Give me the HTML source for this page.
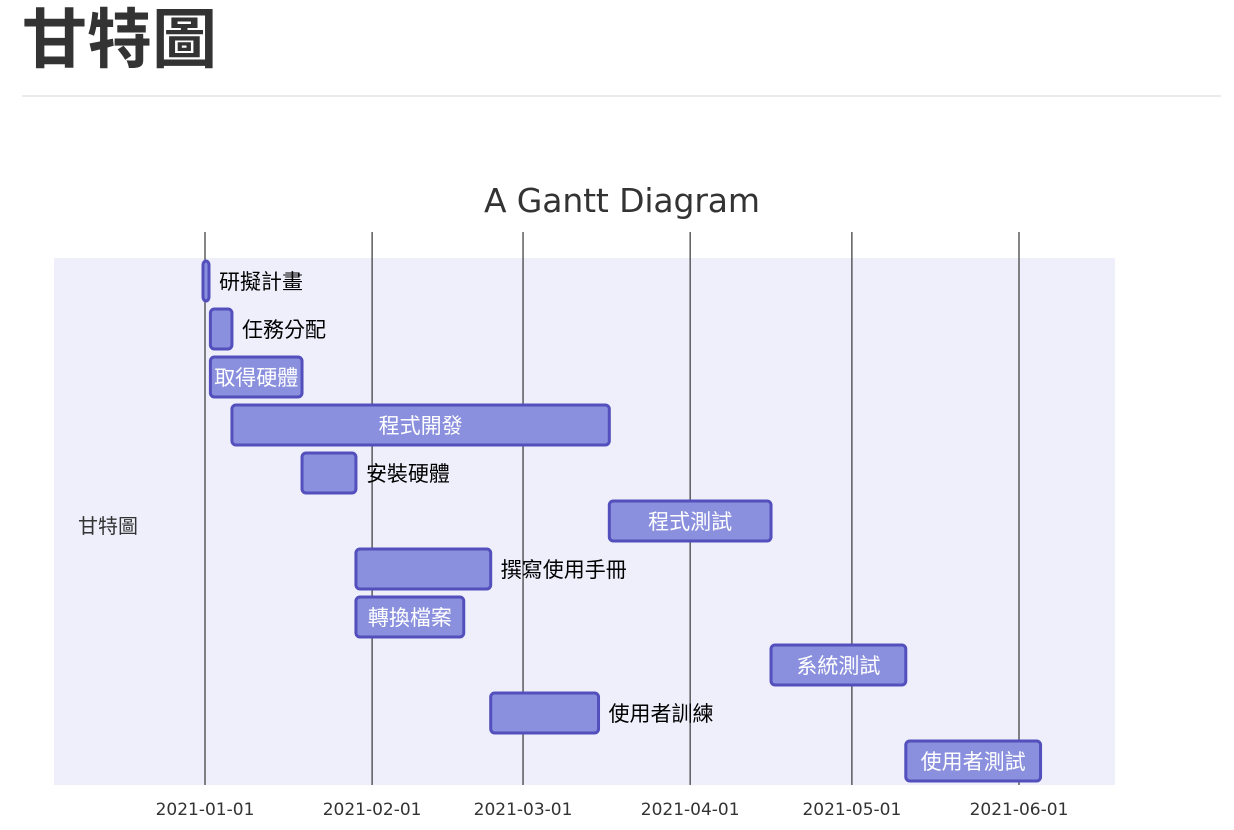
<!DOCTYPE html>
<html><head><meta charset="utf-8"><style>
body{margin:0;background:#fff;width:1234px;height:830px;overflow:hidden;font-family:"Liberation Sans","Noto Sans CJK TC",sans-serif}
h1{position:absolute;left:22px;top:0;margin:0;font-size:65px;line-height:80px;font-weight:bold;color:#333}
#hr{position:absolute;left:22px;top:95px;width:1199px;height:2px;background:#eaeaea}
svg{position:absolute;left:0;top:0}
</style></head><body>
<h1>甘特圖</h1>
<div id="hr"></div>
<svg id="chart" width="1234" height="830"></svg>
<script>
const taskNames=["研擬計畫","任務分配","取得硬體","程式開發","安裝硬體","程式測試","撰寫使用手冊","轉換檔案","系統測試","使用者訓練","使用者測試"];
const taskStarts=["2021-01-01","2021-01-02","2021-01-02","2021-01-06","2021-01-19","2021-03-17","2021-01-29","2021-01-29","2021-04-16","2021-02-23","2021-05-11"];
const taskEnds=["2021-01-02","2021-01-06","2021-01-19","2021-03-17","2021-01-29","2021-04-16","2021-02-23","2021-02-18","2021-05-11","2021-03-15","2021-06-05"];
const tickLabels=["2021-01-01","2021-02-01","2021-03-01","2021-04-01","2021-05-01","2021-06-01"];
const sectionName="甘特圖";
const NS="http://www.w3.org/2000/svg";
const svg=document.getElementById('chart');
const d0=Date.UTC(2021,0,1),d1=Date.UTC(2021,5,1);
function day(s){const p=s.split('-');return Date.UTC(+p[0],+p[1]-1,+p[2]);}
function x(s){return 205+(day(s)-d0)/(d1-d0)*814;}
function rowY(i){return 261+i*48;}
function mk(tag,attrs,parent){const e=document.createElementNS(NS,tag);for(const k in attrs)e.setAttribute(k,attrs[k]);(parent||svg).appendChild(e);return e;}
const title=mk('text',{x:622,y:212,'text-anchor':'middle','font-size':33,fill:'#333','font-family':'"DejaVu Sans","Noto Sans CJK TC",sans-serif','textLength':276});
title.textContent="A Gantt Diagram";


const bg=mk('rect',{x:54,y:258,width:1061,height:527,fill:'#efeffc'});


const sl=mk('text',{x:108,y:533,'text-anchor':'middle','font-size':20,fill:'#333'});
sl.textContent=sectionName;


tickLabels.forEach(t=>{
  const gx=x(t);
  const g=mk('line',{x1:gx,x2:gx,y1:232,y2:785,stroke:'#444','stroke-width':1.3});
  
  
  const tl=mk('text',{x:gx,y:815,'text-anchor':'middle','font-size':17,fill:'#333','font-family':'"DejaVu Sans",sans-serif'});
  tl.textContent=t;
  
  
});
taskNames.forEach((n,i)=>{
  const xs=x(taskStarts[i]),xe=x(taskEnds[i]);
  let w=Math.max(xe-xs,6);
  let bx=xs;if(xe-xs<6)bx=xs-2;
  const y=rowY(i);
  const r=mk('rect',{x:bx,y:y,width:w,height:40,rx:4,fill:'#8a90dd',stroke:'#534fbc','stroke-width':3});
  
  
  const tw=n.length*22.5;
  const inside=tw<=w;
  const t=mk('text',{x:inside?bx+w/2:bx+w+10,y:y+28,'text-anchor':inside?'middle':'start','font-size':21,fill:inside?'#fff':'#000','font-weight':'normal'});
  t.textContent=n;
  
  
});
</script>
</body></html>
